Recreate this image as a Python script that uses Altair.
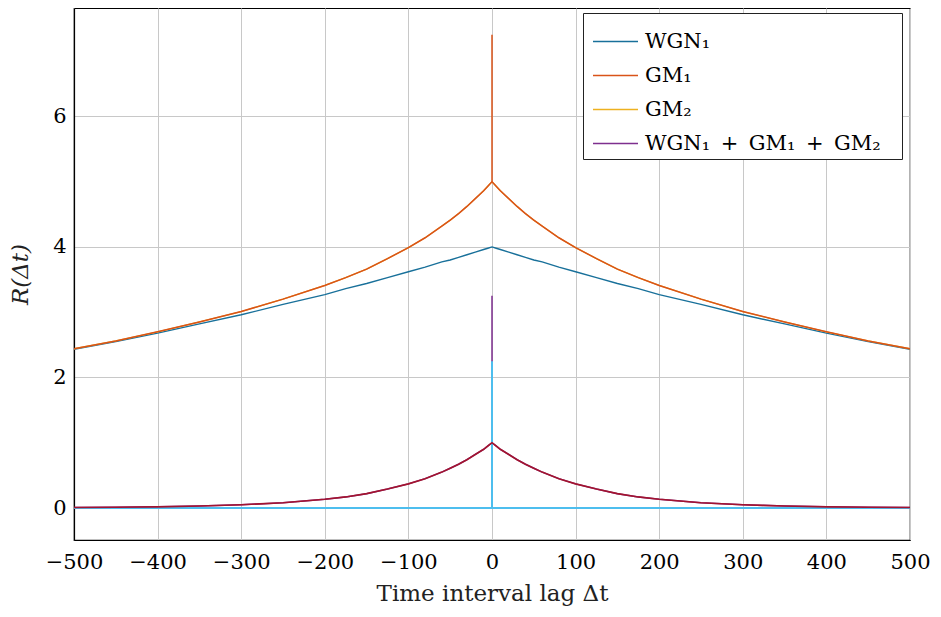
import altair as alt
import pandas as pd

# lags (one side, mirrored for negative lags)
lags = [0, 5, 10, 20, 30, 40, 50, 60, 80, 100, 125, 150, 175, 200, 250, 300, 350, 400, 450, 500]
# values
teal_vals = [4.00, 3.98, 3.96, 3.92, 3.88, 3.84, 3.80, 3.77, 3.69, 3.62, 3.53, 3.44, 3.36, 3.27,
             3.12, 2.96, 2.82, 2.68, 2.55, 2.43]
orange_vals = [5.00, 4.93, 4.86, 4.74, 4.62, 4.51, 4.41, 4.32, 4.14, 3.99, 3.82, 3.66, 3.53, 3.41,
               3.20, 3.01, 2.85, 2.70, 2.56, 2.44]
red_vals = [1.00, 0.95, 0.90, 0.82, 0.74, 0.67, 0.61, 0.55, 0.45, 0.37, 0.29, 0.22, 0.17, 0.135,
            0.08, 0.05, 0.03, 0.018, 0.011, 0.007]
wgn_vals = [0.0] * len(lags)

orange_peak = 7.25
purple_peak = 3.25
blue_peak = 2.25

SUM = "WGN₁\u2002+\u2002GM₁\u2002+\u2002GM₂\u2800"
series_names = ["WGN₁", "GM₁", "GM₂", SUM, "WGN", "GM"]
series_colors = ["#18709a", "#D95319", "#EDB120", "#7E2F8E", "#4DBEEE", "#A2142F"]
legend_names = series_names[:4]

x_ticks = [-500, -400, -300, -200, -100, 0, 100, 200, 300, 400, 500]
y_ticks = [0, 2, 4, 6]


def build(name, vals, peak=None):
    rows = []
    i = 0
    for l, v in zip(lags[::-1], vals[::-1]):
        rows.append({"series": name, "x": -l, "y": v, "o": i}); i += 1
    if peak is not None:
        rows.append({"series": name, "x": 0, "y": peak, "o": i}); i += 1
        rows.append({"series": name, "x": 0, "y": vals[0], "o": i}); i += 1
    for l, v in zip(lags[1:], vals[1:]):
        rows.append({"series": name, "x": l, "y": v, "o": i}); i += 1
    return rows


rows = []
rows += build("WGN₁", teal_vals)
rows += build("GM₂", orange_vals)
rows += build("GM₁", orange_vals, orange_peak)
rows += build(SUM, red_vals, purple_peak)
rows += build("WGN", wgn_vals, blue_peak)
rows += build("GM", red_vals)
df = pd.DataFrame(rows)

FONT = "DejaVu Serif"

color = alt.Color(
    "series:N",
    scale=alt.Scale(domain=series_names, range=series_colors),
    legend=alt.Legend(
        values=legend_names,
        title=None,
        orient="none",
        legendX=509,
        legendY=5,
        symbolType="stroke",
        symbolSize=2025,
        symbolStrokeWidth=1.3,
        symbolOffset=4,
        labelOffset=6,
        labelFont=FONT,
        labelFontSize=21,
        labelColor="black",
        labelLimit=0,
        rowPadding=-12,
        padding=5,
        strokeColor="#222222",
        fillColor="white",
        cornerRadius=0,
    ),
)

xenc = alt.X(
    "x:Q",
    scale=alt.Scale(domain=[-500, 500], nice=False, zero=False),
    axis=alt.Axis(values=x_ticks, title="Time interval lag Δt", grid=True, ticks=False,
                  labelPadding=11, titlePadding=10, format="d", labelFlush=False),
)
yenc = alt.Y(
    "y:Q",
    scale=alt.Scale(domain=[-0.49, 7.66], nice=False, zero=False),
    axis=alt.Axis(values=y_ticks, title="R(Δt)", grid=True, ticks=False,
                  labelPadding=8, titlePadding=20, titleFontStyle="italic", labelFlush=False),
)

order = ["WGN₁", "GM₂", "GM₁", SUM, "WGN", "GM"]
widths = {"WGN₁": 1.4, "GM₂": 1.3, "GM₁": 1.5, SUM: 1.5, "WGN": 2.0, "GM": 1.6}

layers = []
for s in order:
    layers.append(
        alt.Chart(df)
        .transform_filter(alt.datum.series == s)
        .mark_line(strokeWidth=widths[s], clip=True)
        .encode(x=xenc, y=yenc, color=color, order="o:Q")
    )

chart = (
    alt.layer(*layers)
    .properties(
        width=836,
        height=532,
        autosize=alt.AutoSizeParams(type="none"),
        padding={"left": 66, "top": 0, "right": 23, "bottom": 68},
    )
    .configure_view(stroke="black", strokeWidth=1.2)
    .configure_axis(
        labelFont=FONT,
        labelFontSize=21,
        labelColor="black",
        titleFont=FONT,
        titleFontSize=23,
        titleFontWeight="normal",
        titleColor="#222222",
        gridColor="#c8c8c8",
        gridWidth=1,
        domainColor="black",
        domainWidth=1.2,
    )
)

chart.save("out.html", embed_options={"renderer": "svg", "actions": False})
